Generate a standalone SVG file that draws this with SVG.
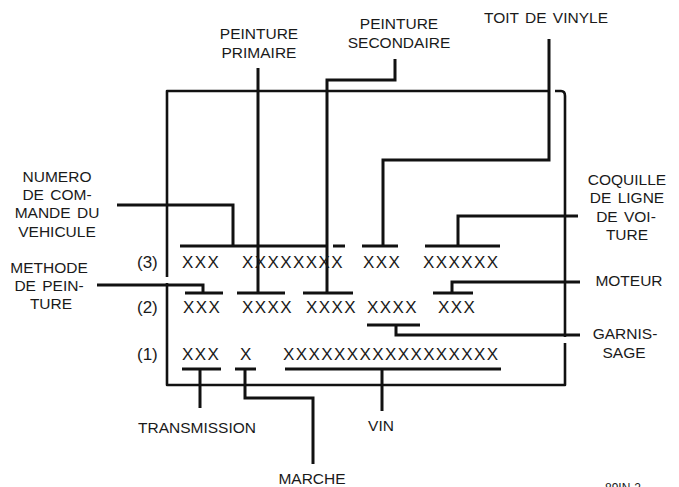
<svg xmlns="http://www.w3.org/2000/svg" width="679" height="487" viewBox="0 0 679 487">
<style>
.ln{fill:none;stroke:#111;stroke-width:3;stroke-linecap:butt;stroke-linejoin:miter}
.fr{fill:none;stroke:#111;stroke-width:2.6;stroke-linejoin:round}
.lb{font-family:"Liberation Sans",Arial,sans-serif;font-size:15.5px;fill:#1a1a1a;text-anchor:middle;word-spacing:2px}
.cd{font-family:"Liberation Sans",Arial,sans-serif;font-size:17px;fill:#1a1a1a;letter-spacing:1.4px}
.rw{font-family:"Liberation Sans",Arial,sans-serif;font-size:17px;fill:#1a1a1a}
</style>
<rect width="679" height="487" fill="#fff"/>
<g id="connectors">
  <!-- frame -->
  <path class="fr" d="M167,277 V91 H549"/>
  <path class="fr" d="M167,283 V385 H565 V343"/>
  <path class="fr" d="M555,91 H561 Q565,91 565,96 V337"/>
  <!-- peinture primaire -->
  <path class="ln" d="M258,68 V293"/>
  <!-- peinture secondaire -->
  <path class="ln" d="M395,59 V80 H327 V293"/>
  <!-- toit de vinyle -->
  <path class="ln" d="M549,39 V160 H383 V246"/>
  <!-- numero de commande -->
  <path class="ln" d="M117,205 H233 V246"/>
  <!-- methode de peinture -->
  <path class="ln" d="M97,285 H203 V293"/>
  <!-- coquille -->
  <path class="ln" d="M578,216 H458 V246"/>
  <!-- moteur -->
  <path class="ln" d="M580,282 H452 V293"/>
  <!-- garnissage -->
  <path class="ln" d="M580,335 H396 V325"/>
  <!-- transmission -->
  <path class="ln" d="M200,369 V408"/>
  <!-- marche -->
  <path class="ln" d="M245,369 V398 H313 V464"/>
  <!-- vin -->
  <path class="ln" d="M382,369 V411"/>
  <!-- row 3 bars -->
  <path class="ln" d="M180,246 H327 M333,246 H345 M362,246 H398 M425,246 H500"/>
  <!-- row 2 bars -->
  <path class="ln" d="M185,293 H223 M237,293 H285 M303,293 H353 M433,293 H473"/>
  <path class="ln" d="M367,325 H420"/>
  <!-- row 1 bars -->
  <path class="ln" d="M182,369 H221 M235,369 H256 M285,369 H501"/>
</g>
<g id="row3">
  <text class="rw" x="137" y="268">(3)</text>
  <text class="cd" x="182" y="268">XXX</text>
  <text class="cd" x="242" y="268">XXXXXXXX</text>
  <text class="cd" x="363" y="268">XXX</text>
  <text class="cd" x="423" y="268">XXXXXX</text>
</g>
<g id="row2">
  <text class="rw" x="137" y="313">(2)</text>
  <text class="cd" x="183" y="313">XXX</text>
  <text class="cd" x="242" y="313">XXXX</text>
  <text class="cd" x="306" y="313">XXXX</text>
  <text class="cd" x="367" y="313">XXXX</text>
  <text class="cd" x="438" y="313">XXX</text>
</g>
<g id="row1">
  <text class="rw" x="137" y="360">(1)</text>
  <text class="cd" x="182" y="360">XXX</text>
  <text class="cd" x="240" y="360">X</text>
  <text class="cd" x="283" y="360">XXXXXXXXXXXXXXXXX</text>
</g>
<g id="peinture-primaire"><text class="lb" x="259" y="39">PEINTURE</text><text class="lb" x="259" y="58">PRIMAIRE</text></g>
<g id="peinture-secondaire"><text class="lb" x="399" y="29">PEINTURE</text><text class="lb" x="399" y="48">SECONDAIRE</text></g>
<g id="toit-de-vinyle"><text class="lb" x="546" y="23">TOIT DE VINYLE</text></g>
<g id="numero"><text class="lb" x="57" y="182">NUMERO</text><text class="lb" x="57" y="200">DE COM-</text><text class="lb" x="57" y="218">MANDE DU</text><text class="lb" x="57" y="237">VEHICULE</text></g>
<g id="methode"><text class="lb" x="49" y="273">METHODE</text><text class="lb" x="49" y="291">DE PEIN-</text><text class="lb" x="51" y="309">TURE</text></g>
<g id="coquille"><text class="lb" x="627" y="185">COQUILLE</text><text class="lb" x="627" y="203">DE LIGNE</text><text class="lb" x="626" y="222">DE VOI-</text><text class="lb" x="627" y="240">TURE</text></g>
<g id="moteur"><text class="lb" x="629" y="286">MOTEUR</text></g>
<g id="garnissage"><text class="lb" x="625" y="339">GARNIS-</text><text class="lb" x="624" y="358">SAGE</text></g>
<g id="transmission"><text class="lb" x="197" y="433">TRANSMISSION</text></g>
<g id="vin"><text class="lb" x="381" y="431">VIN</text></g>
<g id="marche"><text class="lb" x="312" y="484">MARCHE</text></g>
<text x="605" y="492" font-family="Liberation Sans, Arial, sans-serif" font-size="12" fill="#1a1a1a">89IN-2</text>
</svg>
